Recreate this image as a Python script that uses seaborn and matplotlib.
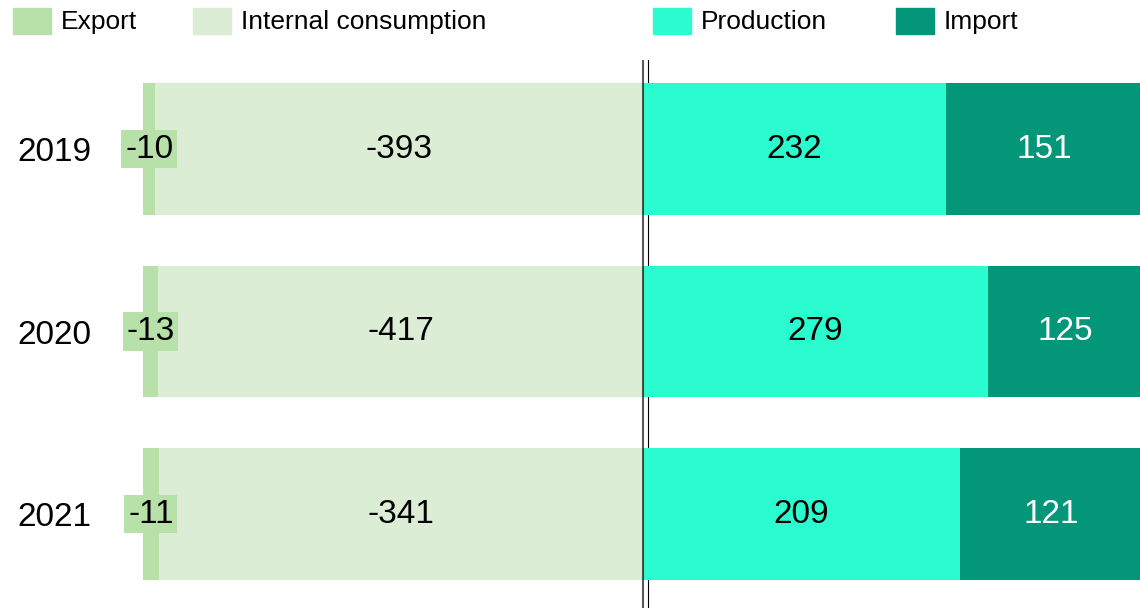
import numpy as np
import pandas as pd
import matplotlib
matplotlib.use("Agg")
import matplotlib.pyplot as plt
import seaborn as sns
from matplotlib.patches import Patch

# data
years = ["2019", "2020", "2021"]
export = [-10, -13, -11]
internal = [-393, -417, -341]
production = [232, 279, 209]
imports = [151, 125, 121]

col_export = "#b7e1a9"
col_internal = "#dbeed5"
col_prod = "#2afcd0"
col_import = "#039678"

sns.set_style("white")
plt.rcParams["font.family"] = ["Liberation Sans", "DejaVu Sans"]
plt.rcParams["text.color"] = "black"
plt.rcParams["ytick.color"] = "black"
plt.rcParams["ytick.labelcolor"] = "black"

df = pd.DataFrame({"year": years, "export": export, "internal": internal,
                   "production": production, "import": imports})
# each side is shown as share of its own total (100 % per side)
neg_total = df["export"] + df["internal"]
pos_total = df["production"] + df["import"]
df["neg_full"] = -100.0
df["internal_pct"] = -df["internal"] / neg_total * 100
df["pos_full"] = 100.0
df["prod_pct"] = df["production"] / pos_total * 100

fig = plt.figure(figsize=(11.4, 6.08), dpi=100)
ax = fig.add_axes([100 / 1140, 0, 1 - 100 / 1140, 548 / 608])

bw = 0.72
sns.barplot(data=df, x="neg_full", y="year", orient="h", color=col_export,
            width=bw, saturation=1, errorbar=None, linewidth=0, ax=ax, zorder=2)
sns.barplot(data=df, x="internal_pct", y="year", orient="h", color=col_internal,
            width=bw, saturation=1, errorbar=None, linewidth=0, ax=ax, zorder=2)
sns.barplot(data=df, x="pos_full", y="year", orient="h", color=col_import,
            width=bw, saturation=1, errorbar=None, linewidth=0, ax=ax, zorder=2)
sns.barplot(data=df, x="prod_pct", y="year", orient="h", color=col_prod,
            width=bw, saturation=1, errorbar=None, linewidth=0, ax=ax, zorder=2)

# value labels
for i, row in df.iterrows():
    ex_mid = (row["neg_full"] + row["internal_pct"]) / 2
    ax.text(ex_mid, i, str(row["export"]), ha="center", va="center", fontsize=24,
            zorder=6, bbox=dict(boxstyle="square,pad=0.11", fc=col_export, ec="none"))
    ax.text(row["internal_pct"] / 2, i, str(row["internal"]), ha="center",
            va="center", fontsize=24, zorder=6)
    ax.text(row["prod_pct"] / 2, i, str(row["production"]), ha="center",
            va="center", fontsize=24, zorder=6)
    ax.text((row["prod_pct"] + row["pos_full"]) / 2, i, str(row["import"]),
            ha="center", va="center", fontsize=24, color="white", zorder=6)

# double line at zero
ax.axvline(0, color="black", alpha=0.65, lw=1.5, zorder=5)
ax.axvline(0.9, color="black", lw=0.8, zorder=0)

ax.set_xlim(-108.6, 99.4)
ax.set_ylim(2.515, -0.488)
ax.set_xlabel("")
ax.set_ylabel("")
ax.set_xticks([])
ax.tick_params(axis="y", length=0, pad=6, labelsize=24, labelcolor="black")
for s in ax.spines.values():
    s.set_visible(False)

leg_kw = dict(frameon=False, fontsize=19, handlelength=1.44, handleheight=1.14,
              handletextpad=0.38, borderpad=0, borderaxespad=0, loc="center left",
              labelcolor="black")
h_left = [Patch(color=col_export, label="Export"),
          Patch(color=col_internal, label="Internal consumption")]
h_right = [Patch(color=col_prod, label="Production"),
           Patch(color=col_import, label="Import")]
leg1 = fig.legend(handles=h_left, ncol=2, columnspacing=2.1,
                  bbox_to_anchor=(13 / 1140, 1 - 21 / 608), **leg_kw)
leg2 = fig.legend(handles=h_right, ncol=2, columnspacing=2.6,
                  bbox_to_anchor=(653 / 1140, 1 - 21 / 608), **leg_kw)

fig.savefig("out.png", dpi=100)
